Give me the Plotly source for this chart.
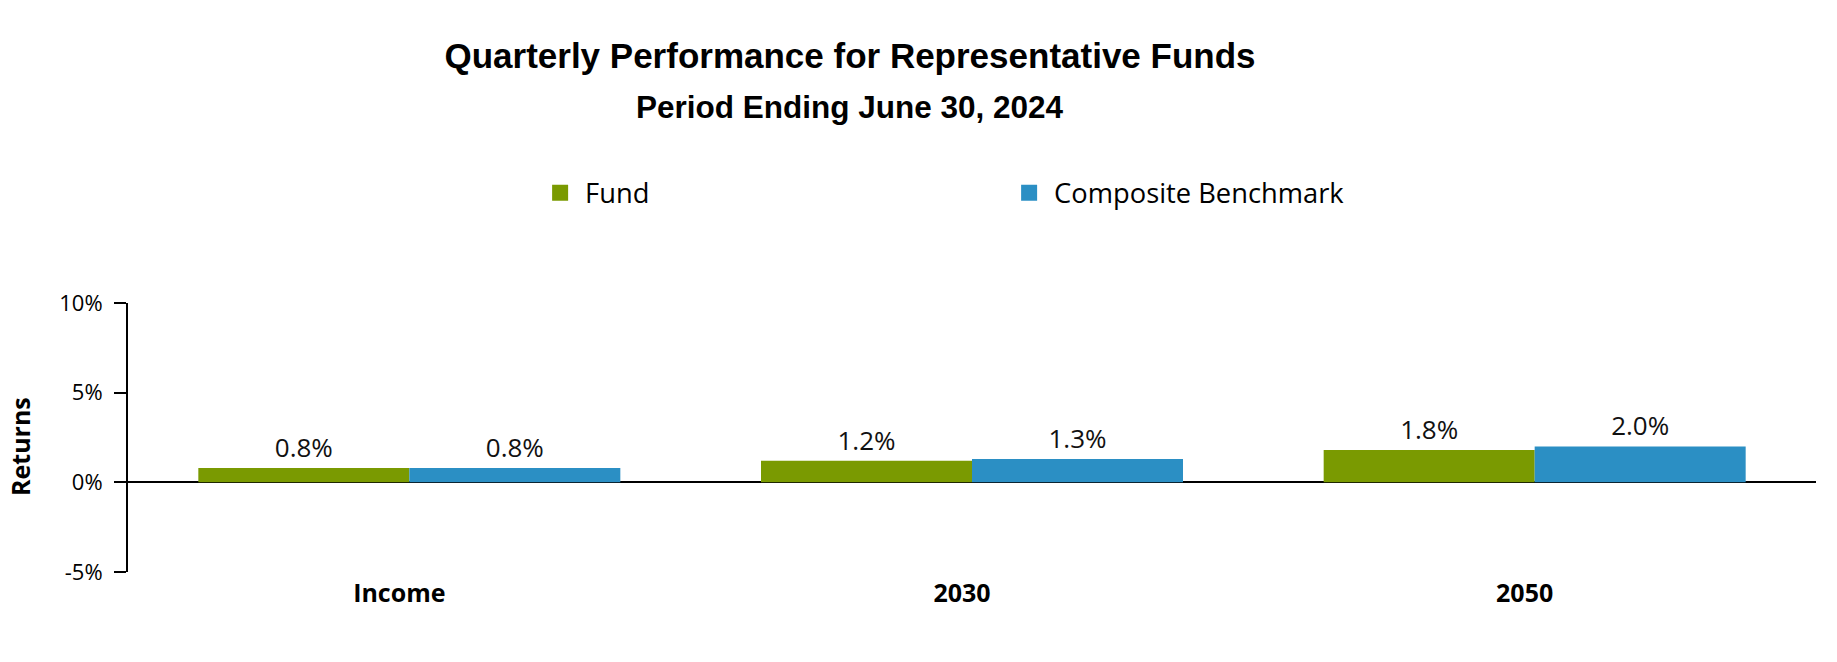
import plotly.graph_objects as go

categories = ["Income", "2030", "2050"]
fund = [0.8, 1.2, 1.8]
benchmark = [0.8, 1.3, 2.0]
fund_labels = ["0.8%", "1.2%", "1.8%"]
bench_labels = ["0.8%", "1.3%", "2.0%"]
tick_vals = [-5, 0, 5, 10]
tick_text = ["-5%", "0%", "5%", "10%"]
series_names = ["Fund", "Composite Benchmark"]

GREEN = "#7a9a01"
BLUE = "#2b8fc4"
BODY_FONT = "Open Sans"
TITLE_FONT = "Liberation Sans"

W, H = 1837, 662
ML, MR, MT, MB = 128, 21, 303, 90
PW, PH = W - ML - MR, H - MT - MB

fig = go.Figure()
for vals, labels, name, color in [(fund, fund_labels, series_names[0], GREEN),
                                  (benchmark, bench_labels, series_names[1], BLUE)]:
    fig.add_trace(go.Bar(
        x=categories, y=vals, name=name, marker_color=color,
        marker_line_width=0, showlegend=False,
        text=labels, textposition="outside", cliponaxis=False,
        textfont=dict(family=BODY_FONT, size=26, color="#111"),
    ))
# legend entries with larger square swatches
for name, color in [(series_names[0], GREEN), (series_names[1], BLUE)]:
    fig.add_trace(go.Scatter(
        x=[None], y=[None], mode="markers", name=name,
        marker=dict(symbol="square", size=16, color=color),
    ))

fig.update_layout(
    width=W, height=H,
    paper_bgcolor="white", plot_bgcolor="white",
    margin=dict(l=ML, r=MR, t=MT, b=MB),
    barmode="group", bargap=0.25, bargroupgap=0,
    title=dict(
        text="<b>Quarterly Performance for Representative Funds</b>",
        x=850 / W, xanchor="center", xref="container",
        y=1 - 56 / H, yanchor="middle", yref="container",
        font=dict(family=TITLE_FONT, size=35, color="black"),
    ),
    annotations=[
        dict(
            text="<b>Period Ending June 30, 2024</b>",
            xref="paper", yref="paper", x=(850 - ML) / PW, y=(H - MB - 107) / PH,
            xanchor="center", yanchor="middle", showarrow=False,
            font=dict(family=TITLE_FONT, size=31.5, color="black"),
        ),
        dict(
            text="<b>Returns</b>", textangle=-90,
            xref="paper", yref="paper", x=(20 - ML) / PW, y=(H - MB - 447) / PH,
            xanchor="center", yanchor="middle", showarrow=False,
            font=dict(family=BODY_FONT, size=25, color="black"),
        ),
    ],
    legend=dict(
        orientation="h", xref="container", yref="container",
        x=0.2913, y=1 - 193 / H, xanchor="left", yanchor="middle",
        font=dict(family=BODY_FONT, size=27.3, color="black"),
        entrywidth=414, entrywidthmode="pixels",
        itemsizing="trace", itemwidth=40,
    ),
    showlegend=True,
    font=dict(family=BODY_FONT, color="black"),
)

fig.update_xaxes(
    showline=False, showgrid=False, ticks="", zeroline=False,
    tickfont=dict(family=BODY_FONT, size=25, color="black"),
    tickprefix="<b>", ticksuffix="</b>",
    ticklabelshift=-10, ticklabelstandoff=4,
)
fig.update_yaxes(
    range=[-5, 10], tickvals=tick_vals, ticktext=tick_text,
    showline=True, linecolor="black", linewidth=2,
    ticks="outside", ticklen=12, tickwidth=2, tickcolor="black",
    ticklabelstandoff=7,
    showgrid=False, zeroline=True, zerolinecolor="black", zerolinewidth=2,
    tickfont=dict(family=BODY_FONT, size=22, color="black"),
)

fig.write_html(
    "out.html",
    config={"displayModeBar": False},
    post_script="document.body.style.margin='0';",
)
